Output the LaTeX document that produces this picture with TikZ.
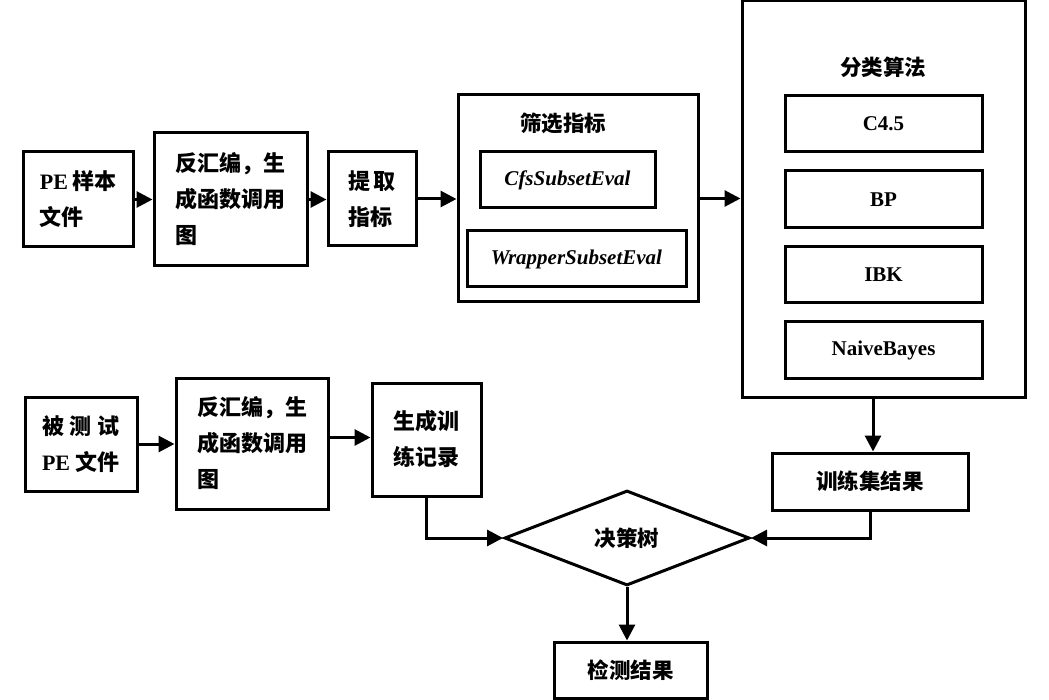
\documentclass[tikz,border=0pt]{standalone}
\usepackage{fontspec}
\setmainfont{Liberation Serif}
\newfontfamily\cjk{Noto Sans CJK SC}
\usetikzlibrary{arrows.meta,shapes.geometric}
\begin{document}
\begin{tikzpicture}[x=1pt,y=-1pt,
  box/.style={draw,line width=3pt,rectangle,inner sep=0pt,align=left,
    font=\bfseries\fontsize{22}{36}\selectfont},
  sbox/.style={draw,line width=3pt,rectangle,inner sep=0pt,align=center,
    font=\bfseries\fontsize{21}{26}\selectfont},
  frame/.style={draw,line width=3pt,rectangle,inner sep=0pt},
  ttl/.style={inner sep=0pt,font=\cjk\bfseries\fontsize{21.5}{26}\selectfont},
  arr/.style={line width=3pt,-{Triangle[length=16pt,width=16pt]}}]
\useasboundingbox (0,0) rectangle (1049,700);
\fill[white] (0,0) rectangle (1049,700);

% top row
\node[box,minimum width=110,minimum height=95] (pe) at (78,199.5)
  {PE\hspace{4pt}{\cjk 样本}\\{\cjk 文件}};
\node[box,minimum width=153,minimum height=133] (dis1) at (230.5,199.5)
  {{\cjk 反汇编，生}\\{\cjk 成函数调用}\\{\cjk 图}};
\node[box,minimum width=88,minimum height=94] (ext) at (372,199)
  {{\cjk 提\hspace{4pt}取}\\{\cjk 指标}};

\node[frame,minimum width=240,minimum height=207] (sel) at (578,198.5) {};
\node[ttl] (seltitle) at (563,123) {筛选指标};
\node[sbox,minimum width=175,minimum height=56] (cfs) at (567.5,180)
  {\itshape CfsSubsetEval};
\node[sbox,minimum width=219,minimum height=56] (wrap) at (576.5,259)
  {\itshape WrapperSubsetEval};

\node[frame,minimum width=283,minimum height=396] (cls) at (883.5,199) {};
\node[ttl] (clstitle) at (883,67) {分类算法};
\node[sbox,minimum width=197,minimum height=56] (c45) at (883.5,124) {C4.5};
\node[sbox,minimum width=197,minimum height=57] (bp) at (883.5,199.5) {BP};
\node[sbox,minimum width=197,minimum height=56] (ibk) at (883.5,275) {IBK};
\node[sbox,minimum width=197,minimum height=56] (nb) at (883.5,350) {NaiveBayes};

% bottom row
\node[box,minimum width=112,minimum height=94] (test) at (81,444)
  {{\cjk 被\hspace{6pt}测\hspace{6pt}试}\\PE\hspace{5pt}{\cjk 文件}};
\node[box,minimum width=152,minimum height=131] (dis2) at (252,443.5)
  {{\cjk 反汇编，生}\\{\cjk 成函数调用}\\{\cjk 图}};
\node[box,minimum width=109,minimum height=113] (gen) at (426.5,439.5)
  {{\cjk 生成训}\\{\cjk 练记录}};

\node[sbox,font=\cjk\bfseries\fontsize{21.5}{26}\selectfont,
  minimum width=196,minimum height=57] (train) at (870,481.5) {训练集结果};
\node[draw,diamond,line width=3pt,inner sep=0pt,minimum width=245,minimum height=95,
  font=\cjk\bfseries\fontsize{21.5}{26}\selectfont] (dt) at (627,538) {决策树};
\node[sbox,font=\cjk\bfseries\fontsize{21.5}{26}\selectfont,
  minimum width=153,minimum height=56] (res) at (630.5,670) {检测结果};

% connectors
\draw[arr] (pe.east) -- (pe.east -| dis1.west);
\draw[arr] (dis1.east) -- (dis1.east -| ext.west);
\draw[arr] (ext.east) -- (ext.east -| sel.west);
\draw[arr] (sel.east) -- (sel.east -| cls.west);
\draw[arr] ([xshift=3pt]train.north |- cls.south) -- ([xshift=3pt]train.north);
\draw[arr] (train.south) |- (dt.east);
\draw[arr] (gen.south) |- (dt.west);
\draw[arr] (dt.south) -- (dt.south |- res.north);
\draw[arr] (test.east) -- (test.east -| dis2.west);
\draw[arr] ([yshift=6pt]dis2.east) -- ([yshift=6pt]dis2.east -| gen.west);
\end{tikzpicture}
\end{document}
